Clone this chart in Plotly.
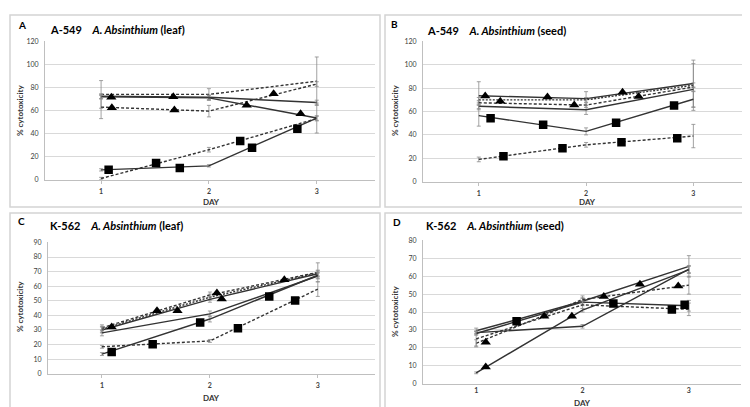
import plotly.graph_objects as go

DAYS = [1, 2, 3]

# ---------------- Panel A : A-549 leaf ----------------
A_LINES = [[74, 74, 85.5], [72.5, 71.5, 67], [72, 71, 53.5], [63, 59.5, 83], [8.5, 12, 53.5], [1, 26, 53]]
A_ERR = [[12, 5, 21], [2, 2, 2], [2, 2, 13], [10, 5, 2], [1, 1, 2], [1, 2, 2]]
A_TRI_X = [1.095, 1.67, 2.35, 2.85, 1.1, 1.68, 2.6]
A_TRI_Y = [71.5, 72, 64.7, 57.3, 62.4, 60.4, 74.6]
A_SQ_X = [1.07, 1.73, 2.4, 2.82, 1.51, 2.29]
A_SQ_Y = [8.5, 10.2, 27.8, 44.3, 14.5, 33.5]

# ---------------- Panel B : A-549 seed ----------------
B_LINES = [[73.5, 71, 84], [70, 70, 82.5], [67.5, 65.5, 81], [64.5, 61.5, 79], [56.5, 43, 70.5], [19, 31.5, 39]]
B_ERR = [[12, 6, 20], [2, 2, 2], [2, 2, 20], [2, 4, 2], [9, 3, 7], [2, 2, 10]]
B_TRI_X = [1.06, 1.2, 1.64, 1.89, 2.34, 2.49]
B_TRI_Y = [73.3, 68.8, 72.4, 65.5, 76.5, 72.9]
B_SQ_X = [1.11, 1.6, 2.28, 2.82, 1.23, 1.78, 2.33, 2.85]
B_SQ_Y = [54.3, 48.7, 50.3, 65.2, 21.8, 28.5, 33.6, 37.2]

# ---------------- Panel C : K-562 leaf ----------------
C_LINES = [[31.5, 54, 69.5], [30.5, 52.5, 69], [30, 51, 68.5], [28, 41, 67], [13.5, 37.5, 67.5], [18.5, 22.5, 58]]
C_ERR = [[2, 2, 6.5], [2, 2, 2], [2, 2, 2], [2, 2, 2], [1, 2, 2], [1, 1, 5]]
C_TRI_X = [1.09, 1.51, 1.70, 2.065, 2.11, 2.69]
C_TRI_Y = [32, 43.2, 43.2, 55.3, 51.3, 64.4]
C_SQ_X = [1.09, 1.47, 1.91, 2.26, 2.55, 2.79]
C_SQ_Y = [14.9, 20.3, 35.1, 31.1, 52.9, 50.2]

# ---------------- Panel D : K-562 seed ----------------
D_LINES = [[29.5, 46, 65.5], [28.5, 32, 64], [6, 41, 63.5], [28, 45.5, 43.5], [22.5, 47, 55], [25, 44, 41.5]]
D_ERR = [[1.5, 2, 6], [1, 1, 2], [0.5, 1, 2], [1, 2, 3], [2, 2, 5], [4, 2, 3.5]]
D_TRI_X = [1.09, 1.9, 1.09, 1.64, 2.2, 2.54, 2.9]
D_TRI_Y = [9.3, 37.6, 23.1, 37.6, 48.7, 55.5, 54.6]
D_SQ_X = [1.38, 2.29, 2.96, 2.84]
D_SQ_Y = [34.9, 44.8, 44, 41.4]

LINE_DASH = ["3px,2px", "solid", "solid", "3px,2px", "solid", "3px,2px"]
LINE_DASH_B = ["solid", "2px,1.5px", "3px,2px", "solid", "solid", "3px,2px"]
LINE_DASH_C = ["3px,2px", "2px,1.5px", "solid", "solid", "solid", "3px,2px"]
LINE_DASH_D = ["solid", "solid", "solid", "solid", "3px,2px", "3px,2px"]

W, H = 750, 407

panels = [
    dict(letter="A", cell="A-549", part="leaf", lines=A_LINES, err=A_ERR, dash=LINE_DASH,
         tx=A_TRI_X, ty=A_TRI_Y, sx=A_SQ_X, sy=A_SQ_Y,
         px=(37, 367), py=(29, 170), xr=[0.48, 3.54], yr=[0, 120], dt=20, tl=3, ts=2,
         box=(2, 2, 372, 198), let=(8, 12), tit=(40, 17), ylab=(12, 100), day=(203, 193)),
    dict(letter="B", cell="A-549", part="seed", lines=B_LINES, err=B_ERR, dash=LINE_DASH_B,
         tx=B_TRI_X, ty=B_TRI_Y, sx=B_SQ_X, sy=B_SQ_Y,
         px=(415, 739), py=(29, 172), xr=[0.48, 3.5], yr=[0, 120], dt=20, tl=3, ts=2,
         box=(377, 2, 747, 198), let=(381, 11), tit=(417, 18), ylab=(387, 100), day=(579, 193)),
    dict(letter="C", cell="K-562", part="leaf", lines=C_LINES, err=C_ERR, dash=LINE_DASH_C,
         tx=C_TRI_X, ty=C_TRI_Y, sx=C_SQ_X, sy=C_SQ_Y,
         px=(40, 367), py=(234, 368), xr=[0.5, 3.53], yr=[0, 90], dt=10, tl=3, ts=2,
         box=(2, 204, 372, 404), let=(8, 212), tit=(40, 217), ylab=(12, 300), day=(203, 393)),
    dict(letter="D", cell="K-562", part="seed", lines=D_LINES, err=D_ERR, dash=LINE_DASH_D,
         tx=D_TRI_X, ty=D_TRI_Y, sx=D_SQ_X, sy=D_SQ_Y,
         px=(415, 733), py=(232, 378), xr=[0.5, 3.49], yr=[0, 80], dt=10, tl=0, ts=0,
         box=(377, 204, 747, 404), let=(383, 213), tit=(416, 217), ylab=(387, 305), day=(574, 398)),
]

FONT = "Lato, 'Open Sans', sans-serif"
LINE_COL = "#333333"
fig = go.Figure()
annotations = []
shapes = []
layout_axes = {}


def fx(p):
    return p / W


def fy(p):
    return 1 - p / H


for i, p in enumerate(panels):
    n = i + 1
    xa = "x" if n == 1 else f"x{n}"
    ya = "y" if n == 1 else f"y{n}"
    for vals, err, dash in zip(p["lines"], p["err"], p["dash"]):
        fig.add_trace(go.Scatter(
            x=DAYS, y=vals, mode="lines", xaxis=xa, yaxis=ya,
            line=dict(color=LINE_COL, width=1.4, dash=dash),
            error_y=dict(type="data", array=err, color="#8a8a8a", thickness=0.8, width=2),
            showlegend=False, hoverinfo="skip"))
    fig.add_trace(go.Scatter(
        x=p["tx"], y=p["ty"], mode="markers", xaxis=xa, yaxis=ya,
        marker=dict(symbol="triangle-up", size=9, color="black"),
        showlegend=False, hoverinfo="skip"))
    fig.add_trace(go.Scatter(
        x=p["sx"], y=p["sy"], mode="markers", xaxis=xa, yaxis=ya,
        marker=dict(symbol="square", size=8.5, color="black"),
        showlegend=False, hoverinfo="skip"))

    kx = "xaxis" if n == 1 else f"xaxis{n}"
    ky = "yaxis" if n == 1 else f"yaxis{n}"
    layout_axes[kx] = dict(
        domain=[fx(p["px"][0]), fx(p["px"][1])], range=p["xr"], anchor=ya,
        tickvals=DAYS, ticktext=[f"<b>{d}</b>" for d in DAYS], showgrid=False, zeroline=False,
        showline=True, linecolor="#bfbfbf", linewidth=1,
        ticks="outside" if p["tl"] > 0 else "", ticklen=max(p["tl"], 1),
        ticklabelstandoff=p["ts"],
        tickcolor="#bfbfbf", tickfont=dict(size=7, color="#404040", family=FONT))
    layout_axes[ky] = dict(
        domain=[fy(p["py"][1]), fy(p["py"][0])], range=p["yr"], anchor=xa,
        dtick=p["dt"], tick0=0, showgrid=True, gridcolor="#d9d9d9", gridwidth=1,
        zeroline=False, showline=True, linecolor="#bfbfbf", linewidth=1,
        ticks="", ticklabelstandoff=4,
        tickfont=dict(size=7, color="#404040", family=FONT))

    x0, y0, x1, y1 = p["box"]
    shapes.append(dict(type="rect", xref="paper", yref="paper",
                       x0=fx(x0), x1=fx(x1), y0=fy(y1), y1=fy(y0),
                       line=dict(color="#d4d4d4", width=1.5), layer="below"))
    annotations.append(dict(text=f"<b>{p['letter']}</b>", x=fx(p["let"][0]), y=fy(p["let"][1]),
                            xref="paper", yref="paper", xanchor="left", yanchor="middle",
                            showarrow=False, font=dict(size=10, color="black", family=FONT)))
    annotations.append(dict(text=f"<b>{p['cell']}    <i>A. Absinthium</i> ({p['part']})</b>",
                            x=fx(p["tit"][0]), y=fy(p["tit"][1]),
                            xref="paper", yref="paper", xanchor="left", yanchor="middle",
                            showarrow=False, font=dict(size=11, color="black", family=FONT)))
    annotations.append(dict(text="<b>% cytotoxicity</b>", x=fx(p["ylab"][0]), y=fy(p["ylab"][1]),
                            xref="paper", yref="paper", xanchor="center", yanchor="middle",
                            textangle=-90, showarrow=False,
                            font=dict(size=8, color="#333333", family=FONT)))
    annotations.append(dict(text="<b>DAY</b>", x=fx(p["day"][0]), y=fy(p["day"][1]),
                            xref="paper", yref="paper", xanchor="center", yanchor="middle",
                            showarrow=False, font=dict(size=8, color="#333333", family=FONT)))

fig.update_layout(
    width=W, height=H, margin=dict(l=0, r=0, t=0, b=0),
    paper_bgcolor="white", plot_bgcolor="white",
    annotations=annotations, shapes=shapes, **layout_axes)

fig.write_html("out.html")
